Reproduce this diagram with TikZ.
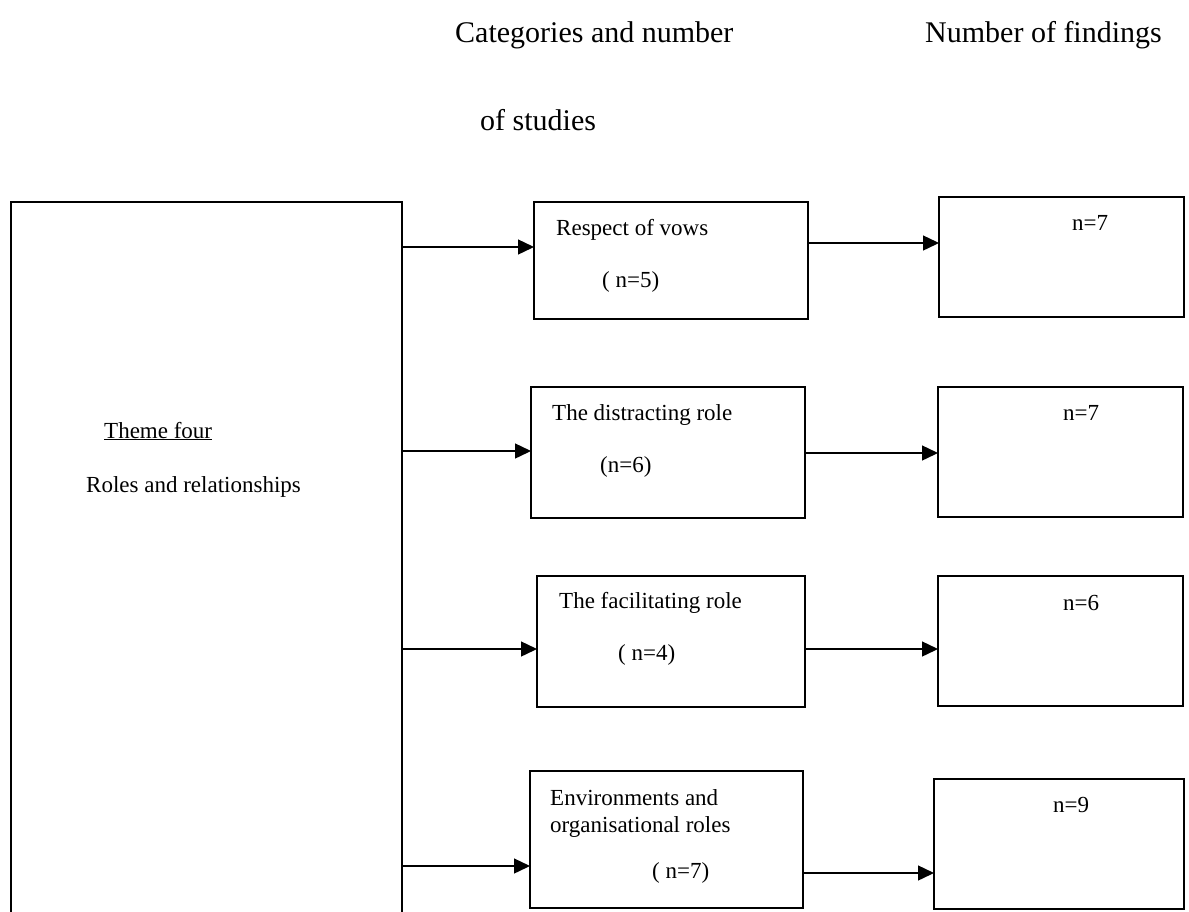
\documentclass[tikz,border=0pt]{standalone}
\usepackage{fontspec}
\setmainfont{Liberation Serif}
\usetikzlibrary{arrows.meta}
\begin{document}
\begin{tikzpicture}[x=1pt,y=-1pt,
  boxstyle/.style={draw=black,line width=1.4pt,inner sep=0pt,outer sep=0pt},
  lbl/.style={anchor=base west,inner sep=0pt,font=\fontsize{23}{27}\selectfont},
  hdr/.style={anchor=base west,inner sep=0pt,font=\fontsize{30}{34}\selectfont},
  arr/.style={line width=1.4pt,-{Triangle[length=16pt,width=15pt]}}]
\useasboundingbox[fill=white] (0,0) rectangle (1189,911);
% headers
\node[hdr] (h1) at (455,42) {Categories and number};
\node[hdr] (h2) at (480,130) {of studies};
\node[hdr] (h3) at (925,42) {Number of findings};
% big box (runs past the bottom)
\node[boxstyle,minimum width=391pt,minimum height=800pt,anchor=north west] (big) at (11,202) {};
\node[lbl] (t1) at (104,438) {\underline{Theme four}};
\node[lbl] (t2) at (86,492) {Roles and relationships};
% middle boxes
\node[boxstyle,minimum width=274pt,minimum height=117pt,anchor=north west] (m1) at (534,202) {};
\node[boxstyle,minimum width=274pt,minimum height=131pt,anchor=north west] (m2) at (531,387) {};
\node[boxstyle,minimum width=268pt,minimum height=131pt,anchor=north west] (m3) at (537,576) {};
\node[boxstyle,minimum width=273pt,minimum height=137pt,anchor=north west] (m4) at (530,771) {};
% right boxes
\node[boxstyle,minimum width=245pt,minimum height=120pt,anchor=north west] (r1) at (939,197) {};
\node[boxstyle,minimum width=245pt,minimum height=130pt,anchor=north west] (r2) at (938,387) {};
\node[boxstyle,minimum width=245pt,minimum height=130pt,anchor=north west] (r3) at (938,576) {};
\node[boxstyle,minimum width=250pt,minimum height=130pt,anchor=north west] (r4) at (934,779) {};
% labels
\node[lbl] (l1a) at (556,235) {Respect of vows};
\node[lbl] (l1b) at (602,287) {( n=5)};
\node[lbl] (l2a) at (552,420) {The distracting role};
\node[lbl] (l2b) at (600,472) {(n=6)};
\node[lbl] (l3a) at (559,608) {The facilitating role};
\node[lbl] (l3b) at (618,660) {( n=4)};
\node[lbl] (l4a) at (550,805) {Environments and};
\node[lbl] (l4b) at (550,832) {organisational roles};
\node[lbl] (l4c) at (652,878) {( n=7)};
\node[lbl] (n1) at (1072,230) {n=7};
\node[lbl] (n2) at (1063,420) {n=7};
\node[lbl] (n3) at (1063,610) {n=6};
\node[lbl] (n4) at (1053,812) {n=9};
% arrow heights
\coordinate (ya1) at (0,247);
\coordinate (yb1) at (0,243);
\coordinate (ya2) at (0,451);
\coordinate (yb2) at (0,453);
\coordinate (ya3) at (0,649);
\coordinate (yb3) at (0,649);
\coordinate (ya4) at (0,866);
\coordinate (yb4) at (0,873);
% arrows
\draw[arr] (big.east |- ya1) -- (m1.west |- ya1);
\draw[arr] (big.east |- ya2) -- (m2.west |- ya2);
\draw[arr] (big.east |- ya3) -- (m3.west |- ya3);
\draw[arr] (big.east |- ya4) -- (m4.west |- ya4);
\draw[arr] (m1.east |- yb1) -- (r1.west |- yb1);
\draw[arr] (m2.east |- yb2) -- (r2.west |- yb2);
\draw[arr] (m3.east |- yb3) -- (r3.west |- yb3);
\draw[arr] (m4.east |- yb4) -- (r4.west |- yb4);
\end{tikzpicture}
\end{document}
